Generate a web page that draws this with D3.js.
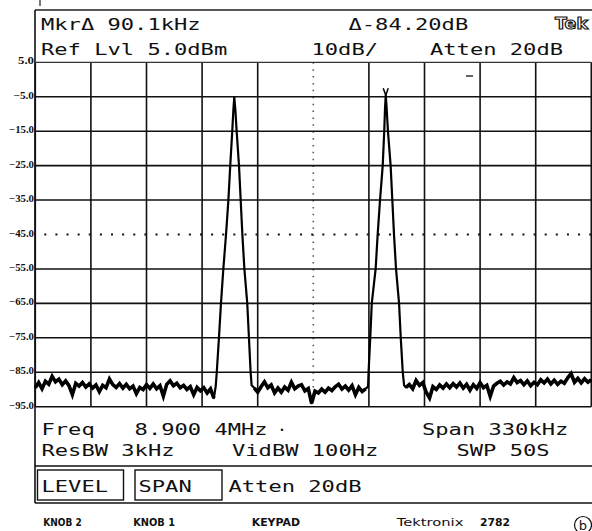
<!DOCTYPE html>
<html>
<head>
<meta charset="utf-8">
<script src="https://cdn.jsdelivr.net/npm/d3@7"></script>
<style>
  body { margin: 0; background: #fff; }
  svg { display: block; }
  .mono { font-family: "DejaVu Sans Mono", monospace; fill: #111; }
  .knob { font-family: "DejaVu Sans", sans-serif; font-weight: bold; fill: #111; }
  .ylab { font-family: "Liberation Serif", serif; font-weight: bold; fill: #111; }
</style>
</head>
<body>
<svg id="screen" width="592" height="531"></svg>
<script>
// span is 330 kHz around the centre frequency, 10 dB per division
const spanKhz = [-165, 165];
const levelDb = [-95, 5];
const yTicks = [5, -5, -15, -25, -35, -45, -55, -65, -75, -85, -95];
const xDivs = [0, 1, 2, 3, 4, 5, 6, 7, 8, 9, 10];

// noise floor, one value every 2 kHz
const sweepStepKhz = 2;
const noise1StartKhz = -165;
const noise1Db = [-89.5, -88.0, -89.8, -87.6, -88.5, -86.2, -87.8, -87.0, -88.6, -87.5,
  -88.9, -91.5, -88.2, -89.0, -88.0, -89.3, -88.4, -89.6, -88.7, -90.6,
  -88.8, -89.5, -87.0, -88.6, -89.4, -88.3, -89.6, -88.5, -89.8, -89.0,
  -91.2, -89.4, -90.0, -88.6, -89.7, -88.4, -89.8, -88.9, -91.9, -88.5,
  -87.5, -88.9, -88.2, -89.5, -88.8, -90.0, -89.2, -91.5, -89.4, -90.4,
  -89.5, -91.0, -89.8, -92.5];
const noise2StartKhz = -35;
const noise2Db = [-89.6, -90.8, -89.2, -87.8, -89.5, -88.7, -91.0, -89.6, -90.8, -89.3,
  -90.2, -87.9, -89.8, -89.0, -88.6, -90.4, -89.7, -94.0, -90.5, -91.0,
  -89.9, -90.8, -89.6, -90.3, -89.2, -88.5, -89.9, -89.0, -90.2, -88.9,
  -91.5, -89.4, -90.6, -89.8];
const noise3StartKhz = 55;
const noise3Db = [-89.4, -88.6, -89.8, -87.4, -88.8, -88.0, -90.8, -92.5, -89.2, -90.0,
  -88.7, -89.6, -88.4, -89.5, -88.3, -89.3, -88.1, -89.6, -88.5, -90.2,
  -88.6, -89.7, -88.0, -89.5, -88.8, -92.0, -89.0, -88.2, -87.6, -88.7,
  -87.8, -88.4, -86.6, -88.0, -87.4, -88.6, -87.5, -88.9, -87.9, -88.6,
  -87.2, -88.1, -87.0, -88.4, -87.3, -88.5, -87.6, -88.2, -86.6, -85.4,
  -87.9, -86.8, -88.1, -86.9, -87.9, -87.2];

// the two carriers
const peak1Khz = [-57.9, -57.3, -56.0, -54.8, -53.4, -51.8, -50.4, -49.3, -48.1, -47.4, -46.9,
  -46.3, -45.5, -44.1, -43.1, -42.1, -40.9, -39.2, -38.2, -37.2, -36.6];
const peak1Db = [-89.0, -85, -75, -65, -55, -45, -35, -25, -15, -8.5, -5.2,
  -8.5, -15, -25, -35, -45, -55, -65, -75, -85, -88.8];
const peak2Khz = [32.5, 32.8, 33.8, 34.7, 37.0, 38.2, 39.6, 41.2, 42.1, 42.6, 43.0,
  43.5, 44.3, 45.9, 46.9, 47.9, 49.1, 50.9, 51.9, 53.1, 53.9];
const peak2Db = [-89.2, -85, -75, -65, -55, -45, -35, -25, -15, -8, -4.6,
  -8, -15, -25, -35, -45, -55, -65, -75, -85, -88.8];
const markerKhz = 43.0, markerDb = -4.6;

// readouts
const headerTop = ["MkrΔ 90.1kHz", "Δ-84.20dB"];
const headerBottom = ["Ref Lvl 5.0dBm", "10dB/", "Atten 20dB"];
const footerTop = ["Freq   8.900 4MHz", "·", "Span 330kHz"];
const footerBottom = ["ResBW 3kHz", "VidBW 100Hz", "SWP 50S"];
const softKeys = ["LEVEL", "SPAN"];
const softText = "Atten 20dB";
const knobLabels = ["KNOB 2", "KNOB 1", "KEYPAD", "Tektronix", "2782"];

let svg = d3.select("#screen");

let plot = { left: 35.3, right: 591.3, top: 62.3, bottom: 406.7 };

let x = d3.scaleLinear().domain(spanKhz).range([plot.left, plot.right]);
let y = d3.scaleLinear().domain(levelDb).range([plot.bottom, plot.top]);
let div = d3.scaleLinear().domain([0, 10]).range([plot.left, plot.right]);

/* outer frame */
svg.append("line").attr("x1", 35).attr("x2", 592).attr("y1", 10).attr("y2", 10)
  .attr("stroke", "#222").attr("stroke-width", 1.3);
svg.append("line").attr("x1", 35).attr("x2", 35).attr("y1", 10).attr("y2", 503)
  .attr("stroke", "#111").attr("stroke-width", 1.6);
svg.append("line").attr("x1", 40).attr("x2", 40).attr("y1", 0).attr("y2", 6)
  .attr("stroke", "#222").attr("stroke-width", 1.2);

/* graticule */
xDivs.forEach(i => {
  let g = svg.append("line")
    .attr("x1", div(i)).attr("x2", div(i))
    .attr("y1", plot.top).attr("y2", plot.bottom)
    .attr("stroke", "#111");
  if (i == 5) {
    g.attr("stroke-width", 1.6).attr("stroke", "#555").attr("stroke-dasharray", "1.5," + (34.44 / 5 - 1.5));
  } else {
    g.attr("stroke-width", 1.6);
  }
});
yTicks.forEach(t => {
  let g = svg.append("line")
    .attr("x1", plot.left).attr("x2", plot.right)
    .attr("y1", y(t)).attr("y2", y(t))
    .attr("stroke", "#111");
  if (t == -45) {
    g.attr("stroke-width", 2).attr("stroke-dasharray", "2," + (55.6 / 5 - 2))
      .attr("stroke-dashoffset", -9);
  } else if (t == 5) {
    g.attr("stroke-width", 1.2).attr("stroke", "#333");
  } else {
    g.attr("stroke-width", 1.6);
  }
});

/* level labels */
let yAxis = d3.axisLeft(y).tickValues(yTicks).tickSize(0).tickPadding(0).tickFormat(d3.format(".1f"));
let yAxisG = svg.append("g").attr("transform", "translate(34,0)").call(yAxis);
yAxisG.select("path.domain").remove();
yAxisG.selectAll(".tick text")
  .attr("class", "ylab")
  .attr("dy", 1.5)
  .style("font-size", "9.5px")
  .attr("textLength", d => d3.format(".1f")(d).length * 4.5 + 2.5)
  .attr("lengthAdjust", "spacingAndGlyphs");

/* trace */
let noiseSegs = [
  noise1Db.map((v, i) => [noise1StartKhz + i * sweepStepKhz, v]),
  noise2Db.map((v, i) => [noise2StartKhz + i * sweepStepKhz, v]),
  noise3Db.map((v, i) => [noise3StartKhz + i * sweepStepKhz, v])
];
let peakSegs = [
  peak1Khz.map((f, i) => [f, peak1Db[i]]),
  peak2Khz.map((f, i) => [f, peak2Db[i]])
];
let trace = [].concat(noiseSegs[0], peakSegs[0], noiseSegs[1], peakSegs[1], noiseSegs[2]);

let line = d3.line().x(d => x(d[0])).y(d => y(d[1]));
svg.append("path")
  .datum(trace)
  .attr("d", line)
  .attr("fill", "none")
  .attr("stroke", "#000")
  .attr("stroke-width", 2.2)
  .attr("stroke-linejoin", "round");

// noise floor is drawn heavier, as the fuzzy band on the screen
noiseSegs.forEach(seg => {
  svg.append("path")
    .datum(seg)
    .attr("d", line)
    .attr("fill", "none")
    .attr("stroke", "#000")
    .attr("stroke-width", 3.6)
    .attr("stroke-linejoin", "miter");
});

/* delta marker */
let mx = x(markerKhz), my = y(markerDb);
svg.append("path")
  .attr("d", "M" + (mx - 2.5) + "," + (my - 7) + "L" + mx + "," + my + "L" + (mx + 2.5) + "," + (my - 7))
  .attr("fill", "none").attr("stroke", "#000").attr("stroke-width", 1.5);

/* display line tick */
svg.append("line").attr("x1", 466).attr("x2", 473).attr("y1", 76).attr("y2", 76)
  .attr("stroke", "#222").attr("stroke-width", 1.4);

/* readout text helper: fixed cell width like the instrument font */
let cell = 13.3;
function monoText(str, tx, ty) {
  return svg.append("text")
    .attr("class", "mono")
    .attr("x", tx).attr("y", ty)
    .attr("textLength", str.length * cell)
    .attr("lengthAdjust", "spacingAndGlyphs")
    .style("font-size", "16.5px")
    .style("white-space", "pre")
    .text(str);
}

monoText(headerTop[0], 41, 30);
monoText(headerTop[1], 348.5, 30);
monoText(headerBottom[0], 41, 55);
monoText(headerBottom[1], 311.5, 55);
monoText(headerBottom[2], 430, 55);

monoText(footerTop[0], 41.5, 435);
svg.append("text").attr("class", "mono").attr("x", 282).attr("y", 435)
  .attr("text-anchor", "middle").style("font-size", "16.5px").text(footerTop[1]);
monoText(footerTop[2], 422, 435);
monoText(footerBottom[0], 41.5, 456);
monoText(footerBottom[1], 232, 456);
monoText(footerBottom[2], 456.5, 456);

/* soft key row */
svg.append("line").attr("x1", 35).attr("x2", 592).attr("y1", 466).attr("y2", 466)
  .attr("stroke", "#111").attr("stroke-width", 1.5);
svg.append("line").attr("x1", 35).attr("x2", 592).attr("y1", 503).attr("y2", 503)
  .attr("stroke", "#111").attr("stroke-width", 1.5);
let keyBoxes = [[37.5, 86], [135, 87]];
softKeys.forEach((k, i) => {
  svg.append("rect")
    .attr("x", keyBoxes[i][0]).attr("y", 470)
    .attr("width", keyBoxes[i][1]).attr("height", 30)
    .attr("fill", "none").attr("stroke", "#111").attr("stroke-width", 1.4);
  monoText(k, keyBoxes[i][0] + (i == 0 ? 4 : 3.5), 492);
});
monoText(softText, 228.5, 492);

/* knob legend under the screen */
let knobPos = [[43.3, 38.4], [133.3, 41.7], [251.7, 48.3], [396.7, 66.7], [480, 30]];
knobLabels.forEach((k, i) => {
  svg.append("text")
    .attr("class", "knob")
    .attr("x", knobPos[i][0]).attr("y", 525.5)
    .attr("textLength", knobPos[i][1])
    .attr("lengthAdjust", "spacingAndGlyphs")
    .style("font-size", "11px")
    .style("font-weight", i == 3 ? "normal" : "bold")
    .text(k);
});

/* Tek logo */
svg.append("text")
  .attr("x", 555).attr("y", 29)
  .attr("textLength", 33).attr("lengthAdjust", "spacingAndGlyphs")
  .style("font-family", "DejaVu Sans").style("font-weight", "bold").style("font-size", "15px")
  .attr("fill", "#fff").attr("stroke", "#111").attr("stroke-width", 1.1)
  .text("Tek");

/* panel letter */
svg.append("circle").attr("cx", 583).attr("cy", 525).attr("r", 8.5)
  .attr("fill", "none").attr("stroke", "#111").attr("stroke-width", 1.2);
svg.append("text").attr("x", 583).attr("y", 529.5).attr("text-anchor", "middle")
  .style("font-family", "DejaVu Sans").style("font-size", "13px").attr("fill", "#111")
  .text("b");
</script>
</body>
</html>
